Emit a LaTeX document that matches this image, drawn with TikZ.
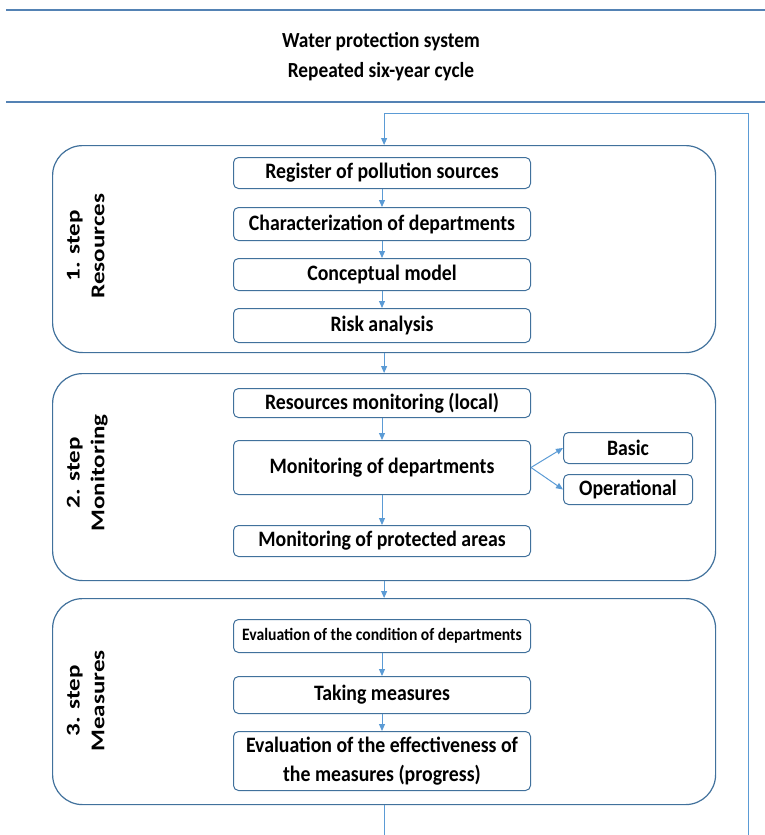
\documentclass[tikz,border=0pt]{standalone}
\usepackage{fontspec}
\setmainfont{Carlito}[FakeStretch=0.9]
\newfontfamily\labelfont{Carlito}
\usetikzlibrary{arrows.meta}
\definecolor{panelc}{RGB}{65,113,156}
\definecolor{arrc}{RGB}{91,155,213}
\definecolor{linec}{RGB}{84,130,180}
\tikzset{
  panel/.style={draw=panelc, line width=1.2pt, rounded corners=30pt, minimum width=663pt, minimum height=207pt, anchor=north west, inner sep=0pt},
  box/.style={draw=panelc, line width=1pt, rounded corners=5pt, fill=white, font=\fontsize{22}{24}\selectfont\bfseries, align=center, minimum width=297pt, anchor=north west, inner sep=0pt},
  sbox/.style={box, minimum width=129pt},
  arr/.style={draw=arrc, line width=1pt, -{Triangle[length=7pt,width=6pt]}},
  flow/.style={draw=arrc, line width=1pt},
  hline/.style={draw=linec, line width=2pt},
  steplabel/.style={rotate=90, inner sep=0pt},
  titletext/.style={font=\fontsize{21.5}{24}\selectfont\bfseries}
}
\newcommand{\steptext}[2]{\scalebox{1}[0.78]{\labelfont\bfseries\fontsize{25}{32}\selectfont\begin{tabular}{@{}c@{}}#1\\#2\end{tabular}}}
\begin{document}
\begin{tikzpicture}[x=1pt,y=-1pt]
\useasboundingbox (0,0) rectangle (765,835);
% header
\coordinate (h1a) at (6,10); \coordinate (h1b) at (765,10);
\coordinate (h2a) at (6,102); \coordinate (h2b) at (765,102);
\draw[hline] (h1a) -- (h1b);
\draw[hline] (h2a) -- (h2b);
\node[titletext] (t1) at (381,42) {Water protection system};
\node[titletext] (t2) at (381,72) {Repeated six-year cycle};
% panels
\node[panel] (p1) at (52,145) {};
\node[panel] (p2) at (52,373) {};
\node[panel, minimum height=206pt] (p3) at (52,598) {};
\node[steplabel] (l1) at (87,246) {\steptext{1. step}{Resources}};
\node[steplabel] (l2) at (87,473) {\steptext{2. step}{Monitoring}};
\node[steplabel] (l3) at (87,701) {\steptext{3. step}{Measures}};
% step 1
\node[box, minimum height=31pt] (a1) at (233,157) {Register of pollution sources};
\node[box, minimum height=33pt] (a2) at (233,207) {Characterization of departments};
\node[box, minimum height=32pt] (a3) at (233,258) {Conceptual model};
\node[box, minimum height=34pt] (a4) at (233,308) {Risk analysis};
% step 2
\node[box, minimum height=29pt] (b1) at (233,388) {Resources monitoring (local)};
\node[box, minimum height=54pt] (b2) at (233,440) {Monitoring of departments};
\node[box, minimum height=31pt] (b3) at (233,525) {Monitoring of protected areas};
\node[sbox, minimum height=31pt] (c1) at (563,432) {Basic};
\node[sbox, minimum height=30pt] (c2) at (563,474) {Operational};
% step 3
\node[box, minimum height=33pt, font=\fontsize{17.4}{19}\selectfont\bfseries] (d1) at (233,619) {Evaluation of the condition of departments};
\node[box, minimum height=37pt] (d2) at (233,676) {Taking measures};
\node[box, minimum height=59pt, font=\fontsize{22}{29}\selectfont\bfseries] (d3) at (233,731) {Evaluation of the effectiveness of\\the measures (progress)};
% connectors
\draw[arr] (a1) -- (a2);
\draw[arr] (a2) -- (a3);
\draw[arr] (a3) -- (a4);
\draw[arr] (p1) -- (p2);
\draw[arr] (b1) -- (b2);
\draw[arr] (b2) -- (b3);
\draw[arr] (b2.east) -- (c1.west);
\draw[arr] (b2.east) -- (c2.west);
\draw[arr] (p2) -- (p3);
\draw[arr] (d1) -- (d2);
\draw[arr] (d2) -- (d3);
% feedback loop
\coordinate (fbtop) at (748,113);
\coordinate (fbbot) at (748,835);
\draw[arr] (fbbot) -- (fbtop) -| (p1.north);
\draw[flow] (p3.south) -- (p3.south |- fbbot);
\end{tikzpicture}
\end{document}
